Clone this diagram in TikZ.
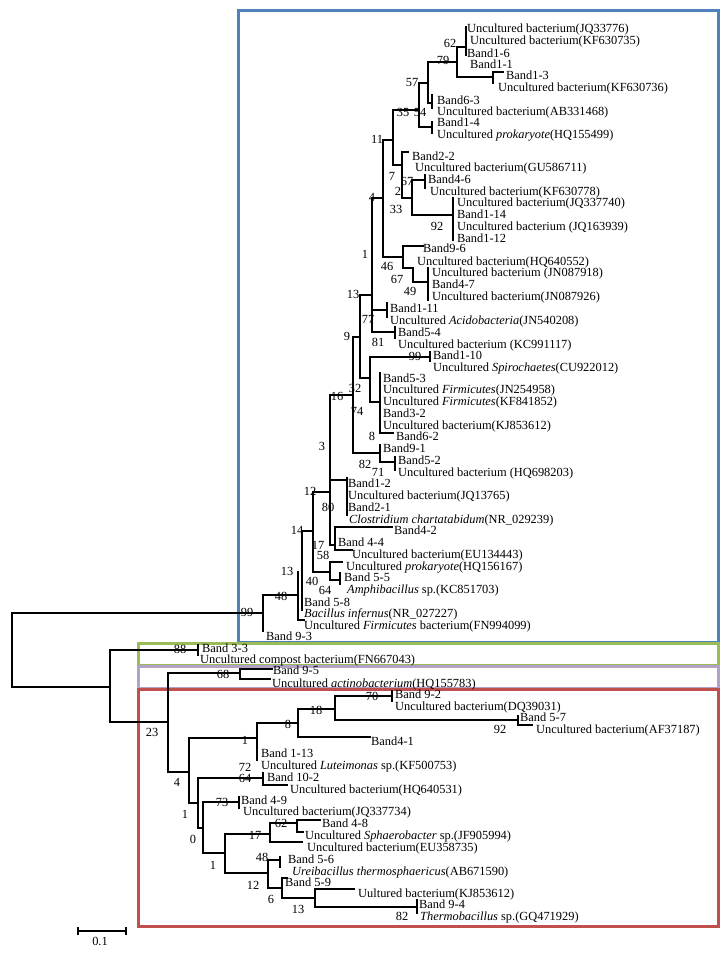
\documentclass[tikz,border=0pt]{standalone}
\usepackage{fontspec}
\setmainfont{Liberation Serif}
\usetikzlibrary{positioning, calc}
\definecolor{cladeblue}{HTML}{4F81BD}
\definecolor{cladegreen}{HTML}{9BBB59}
\definecolor{cladeviolet}{HTML}{B3A2C7}
\definecolor{cladered}{HTML}{C0504D}
\tikzset{
  branch/.style={line width=2pt, line cap=rect, line join=miter},
  taxon/.style={anchor=west, inner sep=0pt, text height=8pt, text depth=2pt, font=\fontsize{12.4}{12}\selectfont},
  support/.style={inner sep=0pt, text height=8pt, text depth=2pt, font=\fontsize{12.4}{12}\selectfont},
  cladebox/.style={line width=3pt}
}

\begin{document}
\begin{tikzpicture}[x=1pt, y=-1pt]
    \useasboundingbox (0,0) rectangle (722,958);

    % --- Recuadros de los clados ---
    \draw [cladebox, cladeblue] (238,11) rectangle (718,642);
    \draw [cladebox, cladegreen] (138,643) rectangle (718,665);
    \draw [cladebox, cladeviolet] (138,666) rectangle (718,688);
    \draw [cladebox, cladered] (138,689) rectangle (718,926);

    % --- Raiz ---
    \draw [branch] (263,613) -- (12,613) -- (12,687) -- (110,687);

    % --- Clado superior (azul) ---
    \draw [branch] (263,631) -- (263,595) -- (298,595);
    \draw [branch] (298,572) -- (298,620) -- (304,620);
    \draw [branch] (302,610) -- (302,531) -- (313,531);
    \draw [branch] (330,492) -- (313,492) -- (313,572) -- (330,572);
    \draw [branch] (342,562) -- (330,562) -- (330,580) -- (340,580);
    \draw [branch] (340,573) -- (340,584);
    \draw [branch] (330,395) -- (330,545) -- (335,545);
    \draw [branch] (330,480) -- (347,480);
    \draw [branch] (347,478) -- (347,515);
    \draw [branch] (392,527) -- (335,527) -- (335,550) -- (352,550);
    \draw [branch] (330,395) -- (353,395);
    \draw [branch] (360,337) -- (353,337) -- (353,453) -- (380,453);
    \draw [branch] (380,445) -- (380,462) -- (395,462);
    \draw [branch] (395,457) -- (395,470);
    \draw [branch] (372,295) -- (360,295) -- (360,378) -- (370,378);
    \draw [branch] (383,198) -- (372,198) -- (372,332) -- (395,332);
    \draw [branch] (372,310) -- (387,310);
    \draw [branch] (387,303) -- (387,317);
    \draw [branch] (395,327) -- (395,338);
    \draw [branch] (430,357) -- (370,357) -- (370,402) -- (380,402);
    \draw [branch] (430,352) -- (430,361);
    \draw [branch] (380,373) -- (380,433) -- (393,433);
    \draw [branch] (393,140) -- (383,140) -- (383,257) -- (403,257);
    \draw [branch] (423,246) -- (403,246) -- (403,268) -- (413,268) -- (413,282) -- (428,282);
    \draw [branch] (428,268) -- (428,300);
    \draw [branch] (419,110) -- (393,110) -- (393,165) -- (402,165);
    \draw [branch] (428,83) -- (419,83) -- (419,127) -- (432,127);
    \draw [branch] (432,122) -- (432,133);
    \draw [branch] (457,62) -- (428,62) -- (428,103) -- (432,103);
    \draw [branch] (432,95) -- (432,108);
    \draw [branch] (466,47) -- (457,47) -- (457,77) -- (493,77);
    \draw [branch] (466,27) -- (466,55);
    \draw [branch] (493,83) -- (493,72) -- (503,72);
    \draw [branch] (408,152) -- (402,152) -- (402,198) -- (412,198);
    \draw [branch] (425,180) -- (412,180) -- (412,215) -- (453,215);
    \draw [branch] (425,175) -- (425,188);
    \draw [branch] (453,198) -- (453,240);

    % --- Clados inferiores (verde, violeta, rojo) ---
    \draw [branch] (197,650) -- (110,650) -- (110,722) -- (168,722);
    \draw [branch] (198,645) -- (198,655);
    \draw [branch] (240,673) -- (168,673) -- (168,772) -- (189,772);
    \draw [branch] (272,669) -- (240,669) -- (240,679) -- (270,679);
    \draw [branch] (257,738) -- (189,738) -- (189,803) -- (198,803);
    \draw [branch] (298,723) -- (257,723) -- (257,760);
    \draw [branch] (335,709) -- (298,709) -- (298,737) -- (370,737);
    \draw [branch] (392,696) -- (335,696) -- (335,720) -- (518,720);
    \draw [branch] (392,691) -- (392,701);
    \draw [branch] (518,716) -- (518,725) -- (532,725);
    \draw [branch] (263,778) -- (198,778) -- (198,828) -- (203,828);
    \draw [branch] (263,773) -- (263,785) -- (287,785);
    \draw [branch] (239,802) -- (203,802) -- (203,853) -- (225,853);
    \draw [branch] (239,797) -- (239,808);
    \draw [branch] (270,834) -- (225,834) -- (225,873) -- (268,873);
    \draw [branch] (297,823) -- (270,823) -- (270,842) -- (302,842);
    \draw [branch] (320,820) -- (297,820) -- (297,832) -- (303,832);
    \draw [branch] (280,860) -- (268,860) -- (268,888) -- (282,888);
    \draw [branch] (280,857) -- (280,867);
    \draw [branch] (287,878) -- (282,878) -- (282,898) -- (315,898);
    \draw [branch] (354,889) -- (315,889) -- (315,907) -- (417,907);
    \draw [branch] (417,900) -- (417,913);

    % --- Taxones del clado azul ---
    \node (jq33776) [taxon] at (467,30) {Uncultured bacterium(JQ33776)};
    \node (kf630735) [taxon] at (470,42) {Uncultured bacterium(KF630735)};
    \node (b16) [taxon] at (467,54) {Band1-6};
    \node (b11) [taxon] at (470,66) {Band1-1};
    \node (b13) [taxon] at (506,77) {Band1-3};
    \node (kf630736) [taxon] at (498,89) {Uncultured bacterium(KF630736)};
    \node (b63) [taxon] at (437,101) {Band6-3};
    \node (ab331468) [taxon] at (437,112) {Uncultured bacterium(AB331468)};
    \node (b14) [taxon] at (437,123) {Band1-4};
    \node (hq155499) [taxon] at (437,135) {Uncultured \textit{prokaryote}(HQ155499)};
    \node (b22) [taxon] at (412,157) {Band2-2};
    \node (gu586711) [taxon] at (415,168) {Uncultured bacterium(GU586711)};
    \node (b46) [taxon] at (428,180) {Band4-6};
    \node (kf630778) [taxon] at (430,192) {Uncultured bacterium(KF630778)};
    \node (jq337740) [taxon] at (457,203) {Uncultured bacterium(JQ337740)};
    \node (b114) [taxon] at (457,215) {Band1-14};
    \node (jq163939) [taxon] at (457,227) {Uncultured bacterium (JQ163939)};
    \node (b112) [taxon] at (457,239) {Band1-12};
    \node (b96) [taxon] at (423,249) {Band9-6};
    \node (hq640552) [taxon] at (417,262) {Uncultured bacterium(HQ640552)};
    \node (jn087918) [taxon] at (432,273) {Uncultured bacterium (JN087918)};
    \node (b47) [taxon] at (432,285) {Band4-7};
    \node (jn087926) [taxon] at (432,297) {Uncultured bacterium(JN087926)};
    \node (b111) [taxon] at (390,309) {Band1-11};
    \node (jn540208) [taxon] at (390,321) {Uncultured \textit{Acidobacteria}(JN540208)};
    \node (b54) [taxon] at (398,333) {Band5-4};
    \node (kc991117) [taxon] at (398,345) {Uncultured bacterium (KC991117)};
    \node (b110) [taxon] at (433,356) {Band1-10};
    \node (cu922012) [taxon] at (433,368) {Uncultured \textit{Spirochaetes}(CU922012)};
    \node (b53) [taxon] at (383,379) {Band5-3};
    \node (jn254958) [taxon] at (383,390) {Uncultured \textit{Firmicutes}(JN254958)};
    \node (kf841852) [taxon] at (383,402) {Uncultured \textit{Firmicutes}(KF841852)};
    \node (b32) [taxon] at (383,414) {Band3-2};
    \node (kj853612a) [taxon] at (383,426) {Uncultured bacterium(KJ853612)};
    \node (b62) [taxon] at (396,437) {Band6-2};
    \node (b91) [taxon] at (383,449) {Band9-1};
    \node (b52) [taxon] at (398,461) {Band5-2};
    \node (hq698203) [taxon] at (398,473) {Uncultured bacterium (HQ698203)};
    \node (b12) [taxon] at (348,484) {Band1-2};
    \node (jq13765) [taxon] at (348,496) {Uncultured bacterium(JQ13765)};
    \node (b21) [taxon] at (348,508) {Band2-1};
    \node (nr029239) [taxon] at (349,520) {\textit{Clostridium chartatabidum}(NR\_029239)};
    \node (b42) [taxon] at (394,531) {Band4-2};
    \node (b44) [taxon] at (338,543) {Band 4-4};
    \node (eu134443) [taxon] at (352,555) {Uncultured bacterium(EU134443)};
    \node (hq156167) [taxon] at (346,567) {Uncultured \textit{prokaryote}(HQ156167)};
    \node (b55) [taxon] at (344,578) {Band 5-5};
    \node (kc851703) [taxon] at (347,590) {\textit{Amphibacillus} sp.(KC851703)};
    \node (b58) [taxon] at (304,603) {Band 5-8};
    \node (nr027227) [taxon] at (304,614) {\textit{Bacillus infernus}(NR\_027227)};
    \node (fn994099) [taxon] at (304,626) {Uncultured \textit{Firmicutes} bacterium(FN994099)};
    \node (b93) [taxon] at (266,637) {Band 9-3};

    % --- Taxones de los clados inferiores ---
    \node (b33) [taxon] at (202,649) {Band 3-3};
    \node (fn667043) [taxon] at (200,660) {Uncultured compost bacterium(FN667043)};
    \node (b95) [taxon] at (273,671) {Band 9-5};
    \node (hq155783) [taxon] at (272,684) {Uncultured \textit{actinobacterium}(HQ155783)};
    \node (b92) [taxon] at (395,695) {Band 9-2};
    \node (dq39031) [taxon] at (395,707) {Uncultured bacterium(DQ39031)};
    \node (b57) [taxon] at (520,718) {Band 5-7};
    \node (af37187) [taxon] at (536,730) {Uncultured bacterium(AF37187)};
    \node (b41) [taxon] at (371,742) {Band4-1};
    \node (b113) [taxon] at (261,754) {Band 1-13};
    \node (kf500753) [taxon] at (261,766) {Uncultured \textit{Luteimonas} sp.(KF500753)};
    \node (b102) [taxon] at (267,778) {Band 10-2};
    \node (hq640531) [taxon] at (290,790) {Uncultured bacterium(HQ640531)};
    \node (b49) [taxon] at (241,801) {Band 4-9};
    \node (jq337734) [taxon] at (243,812) {Uncultured bacterium(JQ337734)};
    \node (b48) [taxon] at (322,824) {Band 4-8};
    \node (jf905994) [taxon] at (305,836) {Uncultured \textit{Sphaerobacter} sp.(JF905994)};
    \node (eu358735) [taxon] at (307,848) {Uncultured bacterium(EU358735)};
    \node (b56) [taxon] at (288,860) {Band 5-6};
    \node (ab671590) [taxon] at (292,872) {\textit{Ureibacillus thermosphaericus}(AB671590)};
    \node (b59) [taxon] at (285,883) {Band 5-9};
    \node (kj853612b) [taxon] at (358,894) {Uultured bacterium(KJ853612)};
    \node (b94) [taxon] at (419,905) {Band 9-4};
    \node (gq471929) [taxon] at (420,917) {\textit{Thermobacillus} sp.(GQ471929)};

    % --- Valores de soporte ---
    \node (s62a) [support] at (450,45) {62};
    \node (s79) [support] at (443,62) {79};
    \node (s57) [support] at (412,83) {57};
    \node (s35) [support] at (403,113) {35};
    \node (s54) [support] at (420,113) {54};
    \node (s11) [support] at (377,140) {11};
    \node (s7) [support] at (392,177) {7};
    \node (s67a) [support] at (407,182) {67};
    \node (s2) [support] at (398,192) {2};
    \node (s4a) [support] at (372,198) {4};
    \node (s33) [support] at (396,210) {33};
    \node (s92a) [support] at (437,227) {92};
    \node (s1a) [support] at (365,255) {1};
    \node (s46) [support] at (387,267) {46};
    \node (s67b) [support] at (397,280) {67};
    \node (s49) [support] at (410,292) {49};
    \node (s13a) [support] at (353,295) {13};
    \node (s77) [support] at (368,320) {77};
    \node (s9) [support] at (347,337) {9};
    \node (s81) [support] at (378,343) {81};
    \node (s99a) [support] at (415,357) {99};
    \node (s32) [support] at (355,389) {32};
    \node (s16) [support] at (337,397) {16};
    \node (s74) [support] at (357,412) {74};
    \node (s8a) [support] at (372,437) {8};
    \node (s3) [support] at (322,447) {3};
    \node (s82a) [support] at (365,465) {82};
    \node (s71) [support] at (378,473) {71};
    \node (s12a) [support] at (310,492) {12};
    \node (s80) [support] at (328,508) {80};
    \node (s14) [support] at (297,531) {14};
    \node (s17a) [support] at (318,546) {17};
    \node (s58) [support] at (323,556) {58};
    \node (s13b) [support] at (287,572) {13};
    \node (s40) [support] at (312,582) {40};
    \node (s64a) [support] at (325,591) {64};
    \node (s48a) [support] at (281,597) {48};
    \node (s99b) [support] at (247,613) {99};
    \node (s88) [support] at (180,650) {88};
    \node (s68) [support] at (223,675) {68};
    \node (s70) [support] at (372,697) {70};
    \node (s18) [support] at (316,711) {18};
    \node (s8b) [support] at (288,725) {8};
    \node (s92b) [support] at (500,730) {92};
    \node (s23) [support] at (152,733) {23};
    \node (s1b) [support] at (245,741) {1};
    \node (s72) [support] at (245,768) {72};
    \node (s64b) [support] at (245,779) {64};
    \node (s4b) [support] at (177,783) {4};
    \node (s73) [support] at (222,803) {73};
    \node (s1c) [support] at (185,815) {1};
    \node (s62b) [support] at (281,824) {62};
    \node (s17b) [support] at (255,836) {17};
    \node (s0) [support] at (193,840) {0};
    \node (s48b) [support] at (262,858) {48};
    \node (s1d) [support] at (213,866) {1};
    \node (s12b) [support] at (253,886) {12};
    \node (s6) [support] at (271,900) {6};
    \node (s13c) [support] at (298,910) {13};
    \node (s82b) [support] at (402,917) {82};

    % --- Barra de escala ---
    \coordinate (bar_l) at (78,931);
    \coordinate (bar_r) at (126,931);
    \draw [branch, line cap=butt] (bar_l) -- (bar_r);
    \draw [branch, line cap=butt] ($(bar_l)+(0,-4)$) -- ($(bar_l)+(0,4)$);
    \draw [branch, line cap=butt] ($(bar_r)+(0,-4)$) -- ($(bar_r)+(0,4)$);
    \node (escala) [support] at (100,942) {0.1};
\end{tikzpicture}
\end{document}
